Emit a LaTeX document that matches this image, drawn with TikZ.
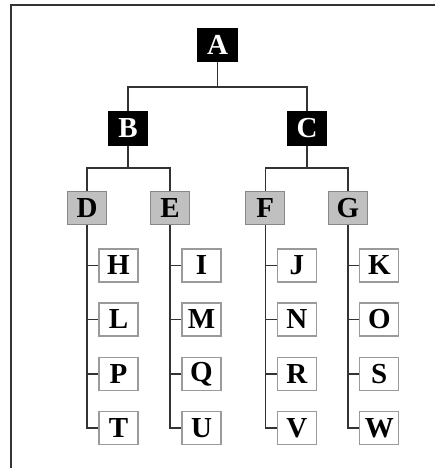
\documentclass[tikz,border=0pt]{standalone}
\usepackage{fontspec}
\setmainfont{Liberation Serif}
\definecolor{linec}{HTML}{333333}
\definecolor{grayfill}{HTML}{C0C0C0}
\definecolor{grayedge}{HTML}{888888}
\definecolor{whiteedge}{HTML}{9A9A9A}
\begin{document}
\begin{tikzpicture}[x=1pt,y=-1pt,
  box/.style={minimum width=39pt,minimum height=33pt,inner sep=0pt,font=\fontsize{29}{29}\selectfont\bfseries,line width=1.2pt},
  blackbox/.style={box,fill=black,draw=black,text=white},
  graybox/.style={box,fill=grayfill,draw=grayedge,text=black},
  whitebox/.style={box,fill=white,draw=whiteedge,text=black},
  conn/.style={draw=linec,line width=1.6pt}]
\useasboundingbox (0,0) rectangle (435,468);
\coordinate (fl) at (10.7,468);
\coordinate (ftl) at (10.7,4.8);
\coordinate (fr) at (435,4.8);
\draw[linec,line width=2pt] (fl) -- (ftl) -- (fr);

\node[blackbox] (A) at (217.5,45) {A};
\node[blackbox] (B) at (128,128.5) {B};
\node[blackbox] (C) at (307,128.5) {C};
\node[graybox] (D) at (87,208) {D};
\node[graybox] (E) at (170,208) {E};
\node[graybox] (F) at (265.3,208) {F};
\node[graybox] (G) at (347.8,208) {G};

\def\rowA{265.5}\def\rowB{319.5}\def\rowC{374}\def\rowD{428}
\node[whitebox] (H) at (118.5,\rowA) {H};
\node[whitebox] (L) at (118.5,\rowB) {L};
\node[whitebox] (P) at (118.5,\rowC) {P};
\node[whitebox] (T) at (118.5,\rowD) {T};
\node[whitebox] (I) at (201.5,\rowA) {I};
\node[whitebox] (M) at (201.5,\rowB) {M};
\node[whitebox] (Q) at (201.5,\rowC) {Q};
\node[whitebox] (U) at (201.5,\rowD) {U};
\node[whitebox] (J) at (296.8,\rowA) {J};
\node[whitebox] (N) at (296.8,\rowB) {N};
\node[whitebox] (R) at (296.8,\rowC) {R};
\node[whitebox] (V) at (296.8,\rowD) {V};
\node[whitebox] (K) at (379.3,\rowA) {K};
\node[whitebox] (O) at (379.3,\rowB) {O};
\node[whitebox] (S) at (379.3,\rowC) {S};
\node[whitebox] (W) at (379.3,\rowD) {W};

\draw[conn] (A.south) -- ++(0,25) -| (B.north);
\draw[conn] (A.south) -- ++(0,25) -| (C.north);
\draw[conn] (B.south) -- ++(0,22.5) -| (D.north);
\draw[conn] (B.south) -- ++(0,22.5) -| (E.north);
\draw[conn] (C.south) -- ++(0,22.5) -| (F.north);
\draw[conn] (C.south) -- ++(0,22.5) -| (G.north);

\foreach \p/\a/\b/\c/\d in {D/H/L/P/T,E/I/M/Q/U,F/J/N/R/V,G/K/O/S/W}{
  \draw[conn] (\p.south) |- (\d.west);
  \draw[conn] (\a.west) -- (\a.west -| \p.south);
  \draw[conn] (\b.west) -- (\b.west -| \p.south);
  \draw[conn] (\c.west) -- (\c.west -| \p.south);
}
\end{tikzpicture}
\end{document}
